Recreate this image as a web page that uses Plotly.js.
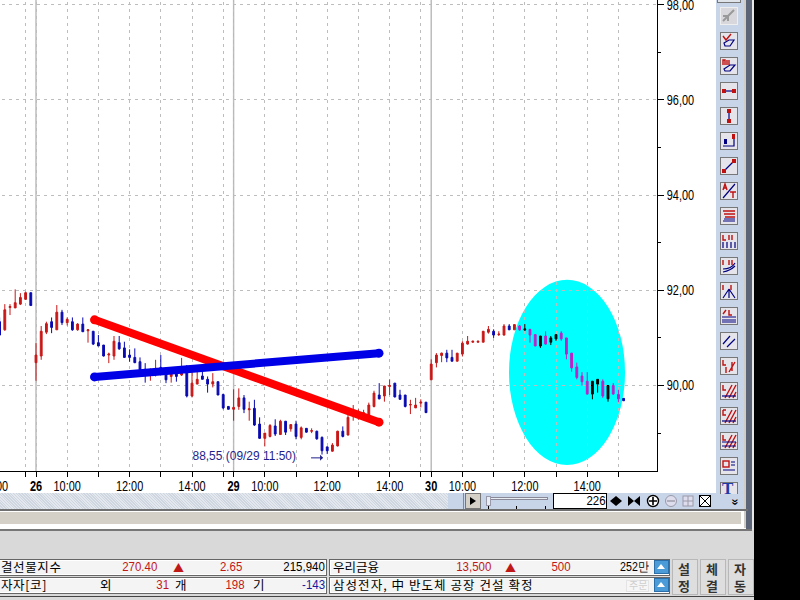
<!DOCTYPE html>
<html><head><meta charset="utf-8">
<script src="https://cdn.plot.ly/plotly-3.0.1.min.js"></script>
<style>
html,body{margin:0;padding:0;background:#fff;width:800px;height:600px;overflow:hidden}
#plot{position:absolute;left:-40px;top:-40px;width:840px;height:640px}
.c{position:absolute;box-sizing:border-box}
.t{position:absolute;font:12.5px "Noto Sans CJK KR","Liberation Sans";line-height:16px;white-space:pre;color:#000}
.n{transform:scaleX(.85);transform-origin:100% 50%}
</style></head><body>
<div id="plot"></div>
<div id="chrome"></div>
<script>
// candle slot numbers: 10-minute bars, 0 = 09:00 on the 26th
const firstSlot = -7;
const highlightFrom = 93, highlightTo = 112;
const opens = [91.34,91.17,91.64,91.63,91.71,91.81,91.95,90.48,90.62,91.12,91.34,91.17,91.54,91.32,91.34,91.17,91.29,91.15,91.14,90.90,90.85,90.64,90.62,90.90,90.79,90.64,90.59,90.50,90.34,90.21,90.23,90.38,90.33,90.19,90.24,90.22,90.33,89.78,90.03,90.20,90.13,90.03,90.08,
 89.81,89.56,89.50,89.56,89.74,89.49,89.52,89.19,88.89,88.93,89.15,88.97,89.25,89.09,89.19,88.91,89.10,89.04,89.04,88.91,88.71,88.62,88.73,89.04,88.96,89.38,89.36,89.39,89.35,89.56,89.80,89.78,89.98,90.05,89.80,89.80,89.59,89.53,89.63,89.65,
 90.12,90.48,90.63,90.68,90.59,90.51,90.66,90.87,90.91,90.91,90.91,91.12,91.14,91.07,91.06,91.25,91.17,
 91.17,91.19,91.06,90.83,91.04,90.87,91.00,91.07,90.98,90.66,90.37,90.17,90.08,89.82,90.09,90.13,89.78,90.00,89.82,89.72,89.73];
const highs = [91.43,91.71,91.71,92.02,91.94,91.97,91.95,90.89,91.25,91.34,91.43,91.69,91.59,91.43,91.43,91.31,91.43,91.18,91.14,91.06,90.85,90.69,91.04,91.04,90.92,90.76,90.78,90.59,90.47,90.36,90.54,90.64,90.38,90.36,90.38,90.58,90.43,90.31,90.31,90.31,90.19,90.26,90.08,
 89.83,89.56,89.92,89.94,89.80,89.66,89.70,89.33,89.00,89.19,89.29,89.28,89.25,89.18,89.26,89.14,89.10,89.10,89.05,88.93,88.72,88.79,89.05,89.14,89.42,89.59,89.50,89.49,89.64,89.89,90.05,89.99,90.13,90.05,89.91,89.80,89.70,89.74,89.71,89.65,
 90.55,90.68,90.69,90.75,90.75,90.68,90.93,91.04,90.94,90.94,91.14,91.25,91.18,91.14,91.29,91.29,91.28,
 91.27,91.29,91.18,91.07,91.04,91.14,91.04,91.07,91.14,91.00,90.68,90.48,90.28,90.28,90.09,90.13,90.13,90.00,90.05,89.91,89.73];
const lows = [91.06,91.15,91.48,91.63,91.69,91.80,91.68,90.10,90.54,91.08,91.10,91.17,91.27,91.26,91.15,91.15,91.13,90.90,90.85,90.83,90.61,90.47,90.54,90.75,90.58,90.50,90.47,90.33,90.06,90.10,90.19,90.22,90.05,90.06,90.08,90.20,89.75,89.75,90.03,90.13,89.85,89.96,89.80,
 89.50,89.50,89.26,89.49,89.42,89.26,89.15,88.88,88.72,88.91,88.94,88.96,88.96,89.03,88.87,88.87,89.01,89.00,88.86,88.55,88.56,88.61,88.72,88.91,88.95,89.26,89.28,89.31,89.28,89.54,89.71,89.66,89.80,89.75,89.70,89.54,89.40,89.53,89.54,89.43,
 90.12,90.38,90.49,90.49,90.51,90.51,90.61,90.86,90.90,90.90,90.91,91.09,91.00,91.04,91.05,91.17,91.17,
 91.15,91.15,90.90,90.83,90.79,90.86,90.85,90.94,90.94,90.55,90.29,90.13,90.00,89.81,89.71,89.85,89.74,89.66,89.81,89.65,89.68];
const closes = [91.06,91.59,91.66,91.74,91.85,91.95,91.68,90.64,91.14,91.30,91.22,91.54,91.32,91.39,91.17,91.29,91.13,91.17,90.87,90.83,90.62,90.66,90.93,90.77,90.59,90.59,90.48,90.33,90.31,90.26,90.36,90.31,90.12,90.24,90.19,90.33,89.78,90.05,90.13,90.13,90.03,90.08,89.80,
 89.53,89.50,89.54,89.74,89.50,89.51,89.17,88.89,89.00,89.16,88.98,89.25,89.02,89.18,88.93,89.11,89.02,89.05,88.88,88.63,88.63,88.75,89.04,88.93,89.33,89.43,89.42,89.43,89.59,89.84,89.72,89.99,90.00,89.76,89.71,89.56,89.60,89.59,89.65,89.43,
 90.45,90.64,90.68,90.58,90.51,90.68,90.89,90.93,90.93,90.93,91.14,91.18,91.06,91.08,91.25,91.17,91.28,
 91.25,91.17,91.18,91.07,90.83,91.04,90.91,90.98,91.10,91.00,90.68,90.39,90.20,90.09,89.82,90.03,90.09,89.72,90.00,89.81,89.68];

const trendSlots = [11.25, 65.96];
const redTrend = [91.38, 89.23];
const blueTrend = [90.18, 90.68];
const ellipseSlots = [90.96, 113.27];
const ellipseValues = [88.33, 92.22];
const daySlots = [0, 38, 76];
const lowSlot = 51.3, lowLabelValue = 88.52, lowLabel = '88,55 (09/29 11:50)';
const arrowSlot = 55.2, arrowValue = 88.48;

const xTickVals = [-8,-2,0,6,12,18,24,30,36,38,44,50,56,62,68,74,76,82,88,94,100,106,112];
const xTickText = ['14:00','','<b>26</b>','10:00','','12:00','','14:00','','<b>29</b>','10:00','','12:00','','14:00','','<b>30</b>','10:00','','12:00','','14:00',''];
const yTickVals = [90,92,94,96,98];
const yTickText = ['90,00','92,00','94,00','96,00','98,00'];

const slots = opens.map((_, k) => firstSlot + k);
const isHi = s => s >= highlightFrom && s <= highlightTo;
const pick = (arr, f) => arr.filter((_, k) => f(slots[k]));
function candles(f, up, down) {
  return {type:'candlestick', x:pick(slots,f), open:pick(opens,f), high:pick(highs,f), low:pick(lows,f), close:pick(closes,f),
    whiskerwidth:0, hoverinfo:'skip', showlegend:false,
    increasing:{line:{color:up,width:1},fillcolor:up}, decreasing:{line:{color:down,width:1},fillcolor:down}};
}
const data = [
  candles(s => !isHi(s), '#c81818', '#0a0ab0'),
  candles(isHi, '#c020c8', '#000000'),
  {type:'scatter', mode:'lines+markers', x:trendSlots, y:redTrend, line:{color:'#ff0000',width:8}, marker:{color:'#ff0000',size:9}, hoverinfo:'skip', showlegend:false},
  {type:'scatter', mode:'lines+markers', x:trendSlots, y:blueTrend, line:{color:'#0000e6',width:8}, marker:{color:'#0000e6',size:9}, hoverinfo:'skip', showlegend:false}
];
const shapes = [
  {type:'circle', xref:'x', yref:'y', x0:ellipseSlots[0], x1:ellipseSlots[1], y0:ellipseValues[0], y1:ellipseValues[1], fillcolor:'#00ffff', line:{width:0}, layer:'below'}
].concat(daySlots.map(d => ({type:'line', xref:'x', yref:'paper', x0:d, x1:d, y0:0, y1:1, line:{color:'#b8b8b8',width:1.4}, layer:'between'})));
const tickFont = {family:'"Liberation Sans"', size:14, color:'#000'};
const layout = {
  width:840, height:640, margin:{l:0,r:143,t:0,b:129,pad:0},
  paper_bgcolor:'rgba(0,0,0,0)', plot_bgcolor:'#fff', showlegend:false, boxmode:'overlay', boxgap:0.5,
  xaxis:{range:[-14.615,119.42], type:'linear', rangeslider:{visible:false}, tickmode:'array', tickvals:xTickVals, ticktext:xTickText,
    ticks:'outside', ticklen:5, tickcolor:'#000', showline:true, linecolor:'#000', linewidth:1, tickfont:tickFont, ticklabelstandoff:-3,
    showgrid:true, gridcolor:'#bdbdbd', griddash:'3px,4px', gridwidth:1, zeroline:false, fixedrange:true},
  yaxis:{range:[88.204,98.939], side:'right', tickmode:'array', tickvals:yTickVals, ticktext:yTickText,
    ticks:'outside', ticklen:6, tickcolor:'#000', showline:true, linecolor:'#000', linewidth:1, tickfont:tickFont,
    showgrid:true, gridcolor:'#bdbdbd', griddash:'3px,4px', gridwidth:1, zeroline:false, fixedrange:true,
    minor:{tickvals:[89,91,93,95,97], ticks:'outside', ticklen:3, tickcolor:'#000', showgrid:false}},
  shapes:shapes,
  annotations:[
    {x:lowSlot,y:lowLabelValue,xref:'x',yref:'y',text:lowLabel,showarrow:false,xanchor:'right',yanchor:'middle',font:{family:'"Liberation Sans"',size:13,color:'#1e1e8c'}},
    {x:arrowSlot,y:arrowValue,xref:'x',yref:'y',text:' ',showarrow:true,arrowhead:1,arrowsize:1,arrowwidth:1,arrowcolor:'#1e1e8c',ax:-15,ay:0}
  ]
};
Plotly.newPlot('plot', data, layout, {displayModeBar:false, staticPlot:true}).then(gd => {
  // the reference's digits are narrow: condense the drawn glyphs, keeping them where the axes placed them
  const condense = (sel, k) => gd.querySelectorAll(sel).forEach(n => {
    const w = n.getComputedTextLength();
    if (w > 0) { n.setAttribute('textLength', (w * k).toFixed(1)); n.setAttribute('lengthAdjust', 'spacingAndGlyphs'); }
  });
  condense('.xtick text, .ytick text', 0.78);
  condense('.annotation-text', 0.92);
});

// ---- surrounding window furniture ----
const root = document.getElementById('chrome');
function box(x,y,w,h,css){const d=document.createElement('div');d.className='c';d.style.cssText+=`left:${x}px;top:${y}px;width:${w}px;height:${h}px;`+(css||'');root.appendChild(d);return d;}
function txt(x,y,s,o){o=o||{};const d=document.createElement('div');d.className='t';d.textContent=s;
  d.style.top=y+'px'; if(o.right!==undefined){d.style.right=(800-o.right)+'px';} else d.style.left=x+'px';
  if(o.color)d.style.color=o.color; if(o.size)d.style.fontSize=o.size+'px'; if(o.font)d.style.fontFamily=o.font; if(o.bold)d.style.fontWeight='bold'; if(o.ls)d.style.letterSpacing=o.ls; if(o.lh)d.style.lineHeight=o.lh+'px';
  if(o.font===NUM)d.classList.add('n');
  root.appendChild(d);return d;}
const NUM='"Liberation Sans"';
// right edge
box(716,0,28,510,'background:#c8d5e8');
box(744,0,2,530,'background:#d0cdc6');
box(746,0,6,532,'background:#5c6478');
box(754,0,46,600,'background:#000');
box(752,0,2,600,'background:#e8e8e8');
// scroll strip
box(0,493,448,16,'background-color:#e3e8ef;background-image:repeating-linear-gradient(45deg,#cfd6df 0 1px,transparent 1px 2px)');
box(448,493,268,16,'background:#c8d5e8');
box(449,493,15,16,'background:#c8d5e8;border-right:1px solid #888');
box(465,493,16,16,'background:#d4d0c8;border:1px solid #777');
box(470,497,0,0,'border-left:6px solid #000;border-top:4px solid transparent;border-bottom:4px solid transparent');
box(486,497,62,3,'background:#e8edf4;border:1px solid #889');
box(486,496,5,10,'background:#e8edf4;border:1px solid #99a');
[488,516,545].forEach(x=>box(x,506,1,3,'background:#000'));
box(553,493,54,16,'background:#fff;border:1px solid #000');
txt(0,493,'226',{right:606,font:NUM,size:13.5,lh:15});
box(610,496,0,0,'border-right:6px solid #000;border-top:5px solid transparent;border-bottom:5px solid transparent');
box(616,496,0,0,'border-left:6px solid #000;border-top:5px solid transparent;border-bottom:5px solid transparent');
box(628,496,0,0,'border-left:6px solid #000;border-top:5px solid transparent;border-bottom:5px solid transparent');
box(634,496,0,0,'border-right:6px solid #000;border-top:5px solid transparent;border-bottom:5px solid transparent');
function svgAt(x,y,w,h,inner){const d=box(x,y,w,h,'');d.innerHTML=`<svg width="${w}" height="${h}" xmlns="http://www.w3.org/2000/svg">${inner}</svg>`;}
svgAt(646,494,14,14,'<circle cx="7" cy="7" r="5.5" fill="#fff" stroke="#000" stroke-width="1.4"/><path d="M7 3V11M3 7H11" stroke="#000" stroke-width="1.6"/>');
svgAt(664,494,14,14,'<circle cx="7" cy="7" r="5.5" fill="#dde" stroke="#9a9aa8"/><path d="M3 7H11" stroke="#9a9aa8" stroke-width="1.4"/>');
svgAt(681,494,14,14,'<rect x="2" y="2" width="10" height="10" fill="#dde" stroke="#9a9aa8"/><path d="M7 2V12M2 7H12" stroke="#9a9aa8"/>');
svgAt(698,494,14,14,'<rect x="1.5" y="1.5" width="11" height="11" fill="#fff" stroke="#000"/><path d="M2 2L12 12M12 2L2 12" stroke="#000"/>');
txt(733,494,'»',{size:13,bold:true}).style.transform='rotate(90deg)';
// lower bands
box(0,509,748,2,'background:#707070');
box(0,511,743,15,'background:#d4d0c8;border-top:1px solid #fff;border-bottom:2px solid #fff;border-right:2px solid #fff');
box(0,528,746,2,'background:#fff');
box(0,530,754,70,'background:#d9d9d9');
box(0,529,752,2,'background:#777');
// status rows
const frame='background:#f4f4f4;border:1px solid #666;box-shadow:inset 0 0 0 1px #fff;';
box(-2,559,329,17,frame); box(329,559,341,17,frame); box(-2,577,329,17,frame); box(329,577,341,17,frame);
const RED='#c01818', NAVY='#1818a0';
txt(1,559,'결선물지수',{ls:'0.6px'});
txt(0,559,'270.40',{right:157,color:RED,font:NUM,size:13.5});
txt(173,559,'▲',{color:RED,size:11});
txt(0,559,'2.65',{right:242,color:RED,font:NUM,size:13.5});
txt(0,559,'215,940',{right:325,font:NUM,size:13.5});
txt(333,559,'우리금융');
txt(0,559,'13,500',{right:491,color:RED,font:NUM,size:13.5});
txt(505,559,'▲',{color:RED,size:11});
txt(0,559,'500',{right:571,color:RED,font:NUM,size:13.5});
txt(0,559,'252만',{right:649,size:12.5,font:NUM});
txt(1,577,'자자[코]',{ls:'0.6px'});
txt(100,577,'외');
txt(0,577,'31',{right:169,color:RED,font:NUM,size:13.5});
txt(175,577,'개');
txt(0,577,'198',{right:245,color:RED,font:NUM,size:13.5});
txt(253,577,'기');
txt(0,577,'-143',{right:325,color:NAVY,font:NUM,size:13.5});
txt(333,577,'삼성전자, 中 반도체 공장 건설 확정',{ls:'1.05px'});
box(626,580,23,12,'background:#f6f6f6;border:1px solid #e4e4e4');
txt(629,578,'주문',{color:'#cfcfcf',size:10,lh:13});
[560,578].forEach(y=>{box(654,y,15,14,'background:#4a9bd8;border:1px solid #2c6ea8');box(657,y+4,0,0,'border-bottom:5px solid #fff;border-left:4px solid transparent;border-right:4px solid transparent');});
[[672,'설\n정'],[700,'체\n결'],[728,'자\n동']].forEach(b=>{
  box(b[0],559,26,36,'background:#dedede;border:1px solid #b8b8b8');
  txt(b[0]+6,560,b[1],{size:13,color:'#333',bold:true,lh:17});
});
box(0,596,754,1,'background:#444');
// drawing toolbar
const L='stroke="#000080" stroke-width="1.2" fill="none"', R='stroke="#c01010" stroke-width="1.4" fill="none"';
const icons=[
 [16,`<path d="M3 14L14 3M3 9H8V14" stroke="#999" stroke-width="2" fill="none"/>`,true],
 [41,`<path d="M3 4L6 8L11 2" ${R}/><path d="M4 11L9 8H14L10 14H5Z" ${L}/>`],
 [66,`<path d="M3 8V3H5V8M7 3V8M9 3V8" ${R}/><path d="M4 12L10 8H15L10 14H5Z" ${L}/>`],
 [91,`<path d="M4 9H14" ${L}/><rect x="2" y="7" width="4" height="4" fill="#c01010"/><rect x="12" y="7" width="4" height="4" fill="#c01010"/>`],
 [116,`<path d="M9 4V14" ${L}/><rect x="7" y="2" width="4" height="4" fill="#c01010"/><rect x="7" y="12" width="4" height="4" fill="#c01010"/>`],
 [141,`<path d="M3 14H14V4" ${L}/><rect x="4" y="7" width="3" height="5" fill="#000080"/><rect x="12" y="2" width="3" height="5" fill="#c01010"/>`],
 [166,`<path d="M4 14L14 4" ${L}/><rect x="2" y="12" width="4" height="4" fill="#c01010"/><rect x="12" y="2" width="4" height="4" fill="#c01010"/>`],
 [191,`<path d="M3 16L15 2" ${L}/><path d="M3 8L5 2L7 8M4 6H6" ${R}/><path d="M10 10H16M13 10V16" ${R}/>`],
 [216,`<path d="M3 4H15M4 7H15M5 10H15" ${R}/><path d="M4 12H15M3 14H15" ${L}/>`],
 [241,`<path d="M3 3V8H6M9 3V8M12 3L12 8" ${R}/><path d="M3 10V16M7 10V16M11 10V16M15 10V16" ${L}/>`],
 [266,`<path d="M3 3V8M9 3V8M12 3V8" ${R}/><path d="M3 15C8 14 12 12 15 9M3 12C7 12 12 11 15 6" ${L}/>`],
 [291,`<path d="M3 3V8M11 3V8" ${R}/><path d="M9 7L3 16M9 7L9 16M9 7L15 16" ${L}/>`],
 [316,`<path d="M3 7L6 3M9 3V8H12" ${R}/><path d="M2 10H16M2 13H16M2 15H16" ${L}/>`],
 [341,`<path d="M3 12L10 4M7 15L15 7" ${L}/>`],
 [366,`<path d="M3 3V8H6M6 16V10M9 15L15 5M12 5V14" ${R}/>`],
 [391,`<path d="M3 3V8H6M5 16L12 3M9 16L16 3M13 16L16 10" ${R}/><path d="M2 14H16" ${L}/>`],
 [416,`<path d="M3 3H6M3 3V8H6M5 16L12 3M9 16L16 3M13 16L16 10" ${R}/><path d="M2 14H16" ${L}/>`],
 [441,`<path d="M3 3V8H6M5 16L12 3M9 16L16 3M13 16L16 10" ${R}/><path d="M2 10H16M2 14H16" ${L}/>`],
 [466,`<rect x="3" y="4" width="6" height="6" ${R}/><path d="M3 13H15M11 5H15M11 8H15" ${L}/>`]
];
box(717,-8,24,11,'background:#dfe3ea;border:1px solid #777');
icons.forEach(ic=>{
  const y=ic[0]-9;
  box(720,y,18,18,ic[2]?'background:#d8d8dc;border:1px solid #eee':'background:#e4e4ea;border:1px solid #777');
  svgAt(720,y,18,18,ic[1]);
});
box(720,482,18,12,'background:#e4e4ea;border:1px solid #777;border-bottom:0');
txt(722,481,'T',{font:'"Liberation Serif"',bold:true,size:17,color:'#1c3ca8'});
</script>
</body></html>
